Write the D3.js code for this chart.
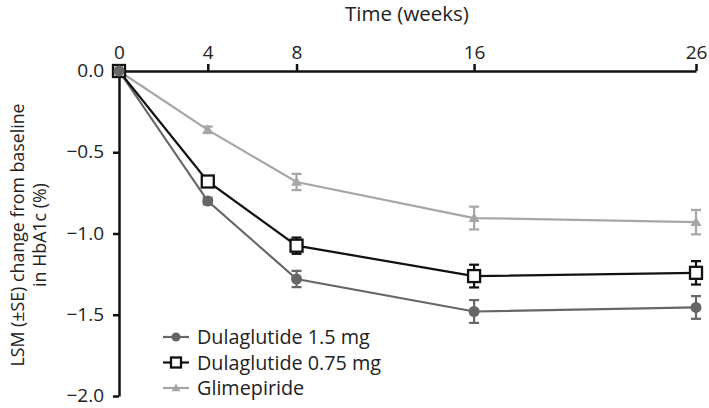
<!DOCTYPE html>
<html lang="en">
<head>
<meta charset="utf-8">
<title>HbA1c change</title>
<script src="https://cdn.jsdelivr.net/npm/d3@7"></script>
<style>
  body { margin: 0; background: #fff; }
  text { font-family: "Open Sans", sans-serif; fill: #222; }
</style>
</head>
<body>
<script>
// data
var weeks = [0, 4, 8, 16, 26];
var yTicks = [0, -0.5, -1.0, -1.5, -2.0];
var seriesNames = ["Dulaglutide 1.5 mg", "Dulaglutide 0.75 mg", "Glimepiride"];
var dula15 = [0, -0.80, -1.28, -1.48, -1.455];
var dula15se = [0, 0.02, 0.05, 0.07, 0.07];
var dula075 = [0, -0.68, -1.075, -1.262, -1.242];
var dula075se = [0, 0.02, 0.05, 0.07, 0.072];
var glim = [0, -0.362, -0.683, -0.905, -0.93];
var glimse = [0, 0.02, 0.05, 0.07, 0.075];

var w = 709, h = 408;
var colors = ["#666666", "#111111", "#a6a6a6"];
var shapes = ["circle", "square", "triangle"];

var x = d3.scaleLinear().domain([0, 26]).range([119, 696]);
var y = d3.scaleLinear().domain([0, -2]).range([71, 396]);

var svg = d3.select("body").append("svg")
  .attr("width", w).attr("height", h);

// x axis on top
var xAxis = svg.append("g")
  .attr("transform", "translate(0," + y(0) + ")")
  .call(d3.axisTop(x).tickValues(weeks).tickSize(7).tickSizeOuter(0).tickPadding(5));
xAxis.select(".domain").attr("stroke", "#111").attr("stroke-width", 2.5);
xAxis.selectAll(".tick line").attr("stroke", "#111").attr("stroke-width", 2.5);
xAxis.selectAll("text").attr("font-size", 19).attr("fill", "#222")
  .style("font-family", "'Open Sans', sans-serif");

// y axis
var yAxis = svg.append("g")
  .attr("transform", "translate(" + x(0) + ",0)")
  .call(d3.axisLeft(y).tickValues(yTicks).tickSize(6).tickSizeOuter(0).tickPadding(9)
    .tickFormat(function(d) { return d3.format(".1f")(d).replace("-", "\u2212"); }));
yAxis.select(".domain").attr("stroke", "#111").attr("stroke-width", 2.5);
yAxis.selectAll(".tick line").attr("stroke", "#111").attr("stroke-width", 2.5);
yAxis.selectAll("text").attr("font-size", 19).attr("fill", "#222")
  .attr("dy", "0.3em")
  .style("font-family", "'Open Sans', sans-serif");

// axis titles
svg.append("text")
  .attr("x", 407).attr("y", 21)
  .attr("text-anchor", "middle")
  .attr("font-size", 20.5)
  .text("Time (weeks)");

var yl = svg.append("text")
  .attr("transform", "translate(24,235) rotate(-90)")
  .attr("text-anchor", "middle")
  .attr("font-size", 17.8);
yl.append("tspan").attr("x", 0).attr("dy", 0).text("LSM (\u00b1SE) change from baseline");
yl.append("tspan").attr("x", 0).attr("dy", 22).text("in HbA1c (%)");

var allData = [
  { vals: dula15, se: dula15se },
  { vals: dula075, se: dula075se },
  { vals: glim, se: glimse }
];

var line = d3.line()
  .x(function(d) { return x(d[0]); })
  .y(function(d) { return y(d[1]); });

function drawMarker(g, shape, cx, cy, color, s) {
  if (shape == "circle") {
    g.append("circle").attr("cx", cx).attr("cy", cy).attr("r", s)
      .attr("fill", color);
  } else if (shape == "square") {
    g.append("rect").attr("x", cx - s).attr("y", cy - s)
      .attr("width", s * 2).attr("height", s * 2)
      .attr("fill", "#fff").attr("stroke", color).attr("stroke-width", 2.3);
  } else {
    g.append("path")
      .attr("d", "M" + cx + "," + (cy - s) + "L" + (cx + s) + "," + (cy + s * 0.7) +
        "L" + (cx - s) + "," + (cy + s * 0.7) + "Z")
      .attr("fill", color);
  }
}

// draw back to front: glimepiride, 1.5, 0.75
[2, 0, 1].forEach(function(k) {
  var s = allData[k];
  var pts = weeks.map(function(wk, i) { return [wk, s.vals[i]]; });
  var g = svg.append("g");
  g.append("path").attr("d", line(pts))
    .attr("fill", "none").attr("stroke", colors[k]).attr("stroke-width", 2.2);
  // error bars
  weeks.forEach(function(wk, i) {
    if (s.se[i] == 0) return;
    var cx = x(wk), y1 = y(s.vals[i] + s.se[i]), y2 = y(s.vals[i] - s.se[i]);
    g.append("line").attr("x1", cx).attr("x2", cx).attr("y1", y1).attr("y2", y2)
      .attr("stroke", colors[k]).attr("stroke-width", 2.2);
    [y1, y2].forEach(function(yy) {
      g.append("line").attr("x1", cx - 5).attr("x2", cx + 5).attr("y1", yy).attr("y2", yy)
        .attr("stroke", colors[k]).attr("stroke-width", 2.2);
    });
  });
  weeks.forEach(function(wk, i) {
    if (wk == 0 && k == 2) return;
    drawMarker(g, shapes[k], x(wk), y(s.vals[i]), colors[k], k == 1 ? 6 : 5.5);
  });
});
// filled dot on top at origin
drawMarker(svg, "circle", x(0), y(0), colors[0], 5.5);

// legend
var legend = svg.append("g");
seriesNames.forEach(function(name, k) {
  var ly = 337 + k * 25.5;
  legend.append("line").attr("x1", 163).attr("x2", 189).attr("y1", ly).attr("y2", ly)
    .attr("stroke", colors[k]).attr("stroke-width", 2.2);
  drawMarker(legend, shapes[k], 176, ly, colors[k], k == 1 ? 5 : 4.5);
  legend.append("text").attr("x", 197).attr("y", ly + 7)
    .attr("font-size", 19.8).text(name);
});
</script>
</body>
</html>
